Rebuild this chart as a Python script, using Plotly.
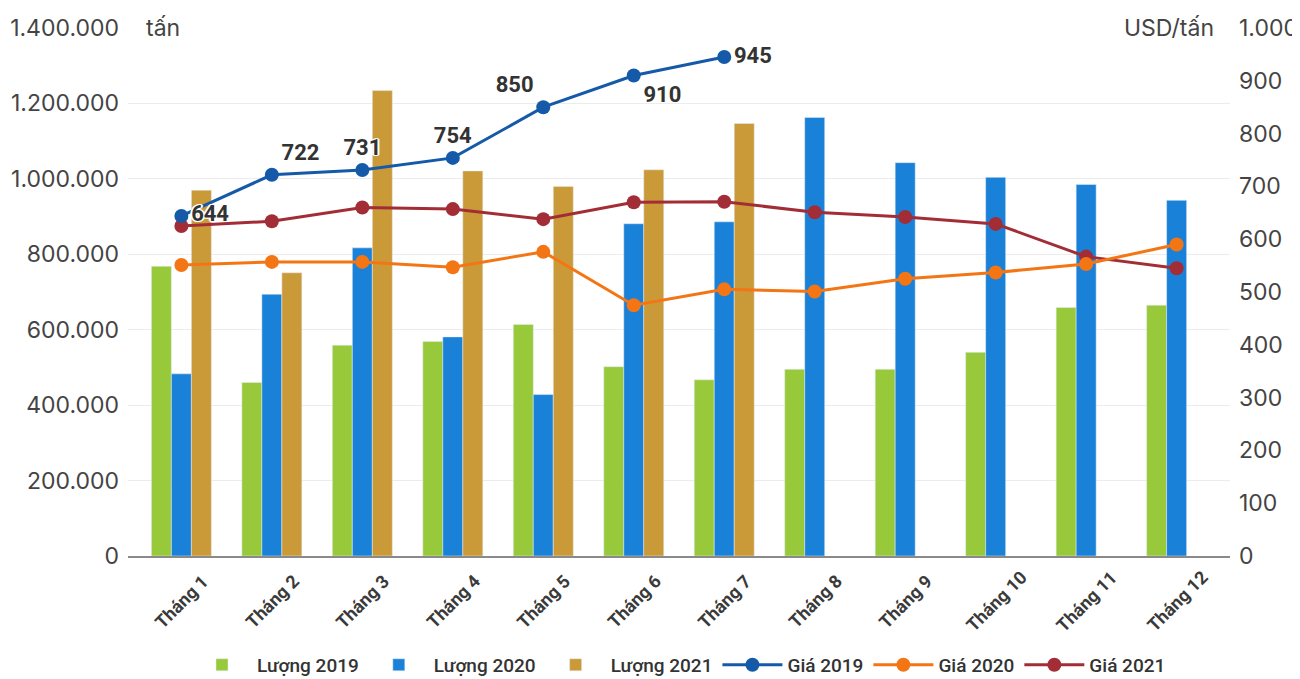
import plotly.graph_objects as go

months = ["Tháng 1", "Tháng 2", "Tháng 3", "Tháng 4", "Tháng 5", "Tháng 6",
          "Tháng 7", "Tháng 8", "Tháng 9", "Tháng 10", "Tháng 11", "Tháng 12"]

luong_2019 = [768000, 460000, 559000, 569000, 614000, 502000, 467000, 495000, 495000, 540000, 659000, 665000]
luong_2020 = [483000, 694000, 817000, 581000, 428000, 881000, 886000, 1163000, 1043000, 1004000, 985000, 943000]
luong_2021 = [970000, 751000, 1234000, 1021000, 980000, 1024000, 1147000, None, None, None, None, None]

gia_2019 = [644, 722, 731, 754, 850, 910, 945, None, None, None, None, None]
gia_2020 = [551, 557, 557, 547, 576, 475, 505, 501, 525, 537, 553, 590]
gia_2021 = [625, 634, 660, 657, 638, 670, 671, 651, 642, 629, 567, 545]

label_pos_2019 = ["middle right", "top right", "top center", "top center", "top left",
                  "bottom right", "middle right", "top center", "top center", "top center",
                  "top center", "top center"]

C_GREEN = "#98c93a"
C_BLUEBAR = "#1a81d8"
C_GOLD = "#cb9a38"
C_BLUELINE = "#145aa8"
C_ORANGE = "#f47514"
C_RED = "#a32d36"

fig = go.Figure()
fig.add_trace(go.Bar(x=months, y=luong_2019, name="Lượng 2019", marker_color=C_GREEN, legendrank=1))
fig.add_trace(go.Bar(x=months, y=luong_2020, name="Lượng 2020", marker_color=C_BLUEBAR, legendrank=2))
fig.add_trace(go.Bar(x=months, y=luong_2021, name="Lượng 2021", marker_color=C_GOLD, legendrank=3))

fig.add_trace(go.Scatter(x=months, y=gia_2021, name="Giá 2021", yaxis="y2", mode="lines+markers",
                         line=dict(color=C_RED, width=3), marker=dict(size=14, color=C_RED),
                         legendrank=6))
fig.add_trace(go.Scatter(x=months, y=gia_2020, name="Giá 2020", yaxis="y2", mode="lines+markers",
                         line=dict(color=C_ORANGE, width=3), marker=dict(size=14, color=C_ORANGE),
                         legendrank=5))
fig.add_trace(go.Scatter(x=months, y=gia_2019, name="Giá 2019", yaxis="y2", mode="lines+markers+text",
                         line=dict(color=C_BLUELINE, width=3), marker=dict(size=14, color=C_BLUELINE),
                         text=[str(v) if v is not None else "" for v in gia_2019],
                         textposition=label_pos_2019,
                         textfont=dict(family="Roboto", size=22, color="#333333", weight="bold",
                                       shadow="-1px -1px 0 #fff, 1px -1px 0 #fff, -1px 1px 0 #fff, 1px 1px 0 #fff, 2px 0 0 #fff, -2px 0 0 #fff"),
                         legendrank=4))

# page body has an 8px margin, so the figure is drawn 8px smaller and offset
fig.update_layout(
    width=1292, height=671,
    margin=dict(l=120, r=70, t=20, b=123),
    paper_bgcolor="white", plot_bgcolor="white",
    barmode="group", bargap=0.337, bargroupgap=0,
    separators=",.",
    font=dict(family="Inter", color="#444444"),
    xaxis=dict(
        range=[-0.59, 11.59], showgrid=False, zeroline=False, showticklabels=False,
        showline=True, linecolor="#8a8a8a", linewidth=2, ticks="", automargin=False,
    ),
    yaxis=dict(
        range=[0, 1400000], dtick=200000, tickformat=",d", showgrid=True,
        gridcolor="#ececec", gridwidth=1, zeroline=False, showline=False, automargin=False,
        tickfont=dict(family="Inter", size=23, color="#444444"), ticklabelstandoff=8,
    ),
    yaxis2=dict(
        range=[0, 1000], dtick=100, tickformat=",d", overlaying="y", side="right",
        showgrid=False, zeroline=False, showline=False, automargin=False,
        tickfont=dict(family="Inter", size=23, color="#444444"), ticklabelstandoff=8,
    ),
    legend=dict(orientation="h", x=0.5, xanchor="center", yref="container", y=0.021, yanchor="middle",
                font=dict(family="Roboto", size=19, color="#333333", weight=500), traceorder="normal",
                itemwidth=60),
    showlegend=True,
)

# category labels, rotated about their centre
for m in months:
    fig.add_annotation(text=m, x=m, xref="x", yref="paper", y=0, yshift=-45,
                       xanchor="center", yanchor="middle", textangle=-45, showarrow=False,
                       font=dict(family="Roboto", size=18, color="#3a3a3a", weight="bold"))

fig.add_annotation(text="tấn", xref="paper", yref="paper", x=0.0, y=1.0, xshift=11,
                   xanchor="left", yanchor="middle", showarrow=False, bgcolor="white",
                   borderpad=6, font=dict(family="Inter", size=23, color="#444444"))
fig.add_annotation(text="USD/tấn", xref="paper", yref="paper", x=1.0, y=1.0, xshift=-9,
                   xanchor="right", yanchor="middle", showarrow=False, bgcolor="white",
                   borderpad=6, font=dict(family="Inter", size=23, color="#444444"))

fig.write_html("out.html")
